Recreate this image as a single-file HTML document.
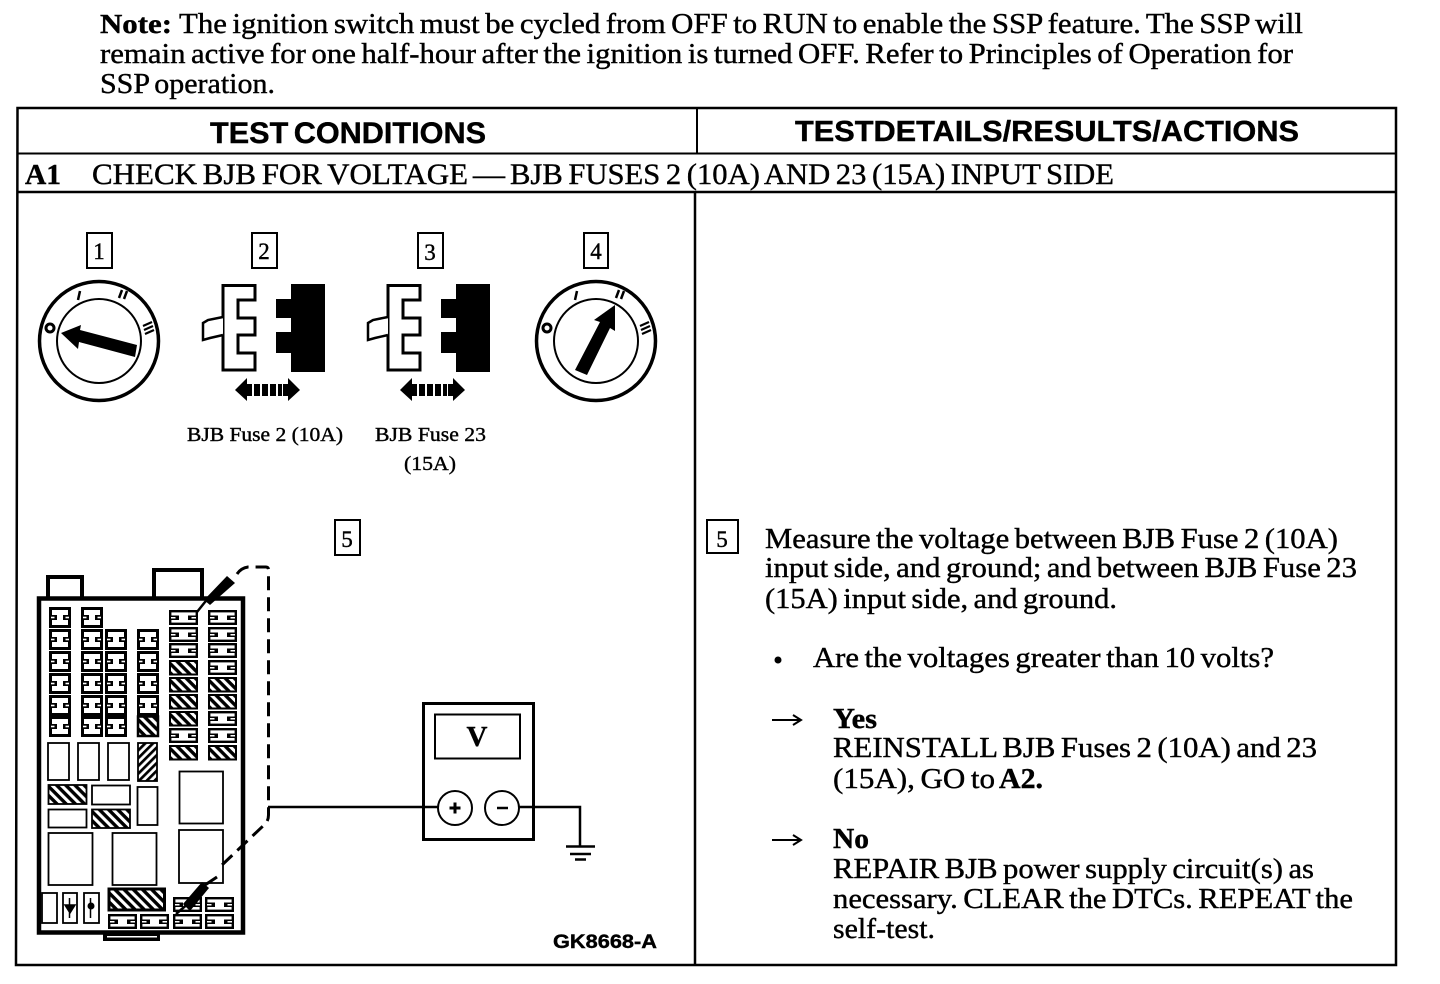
<!DOCTYPE html>
<html lang="en">
<head>
<meta charset="utf-8">
<title>A1 Check BJB for Voltage</title>
<style>
html,body{margin:0;padding:0;background:#fff;width:1440px;height:984px;overflow:hidden}
svg{display:block}
text{font-family:"Liberation Serif",serif;fill:#000;stroke:#000;stroke-width:.4px}
.s{font-family:"Liberation Sans",sans-serif;font-weight:700;word-spacing:-3px}
.b{font-weight:700}
.t{word-spacing:-2px}
</style>
</head>
<body>
<svg width="1440" height="984" viewBox="0 0 1440 984" xmlns="http://www.w3.org/2000/svg">
<defs>
<pattern id="h" width="6.500" height="6.500" patternUnits="userSpaceOnUse" patternTransform="rotate(45)">
<rect width="6.500" height="6.500" fill="#fff"/><rect width="6.500" height="3.400" fill="#000"/>
</pattern>
<pattern id="h2" width="5.500" height="5.500" patternUnits="userSpaceOnUse" patternTransform="rotate(-45)">
<rect width="5.500" height="5.500" fill="#fff"/><rect width="5.500" height="2.700" fill="#000"/>
</pattern>
<g id="f">
<rect x="1.500" y="1.500" width="19" height="18" fill="#fff" stroke="#000" stroke-width="3"/>
<rect x="2" y="8" width="6" height="5" fill="#000"/><rect x="14" y="8" width="6" height="5" fill="#000"/>
<rect x="2" y="9.700" width="3.500" height="1.600" fill="#fff"/><rect x="16.500" y="9.700" width="3.500" height="1.600" fill="#fff"/>
</g>
<g id="w">
<rect x="1.200" y="1.200" width="26.600" height="12.600" fill="#fff" stroke="#000" stroke-width="2.400"/>
<rect x="2" y="5.500" width="8" height="4.500" fill="#000"/><rect x="19" y="5.500" width="8" height="4.500" fill="#000"/>
<rect x="2" y="7" width="4.500" height="1.500" fill="#fff"/><rect x="22.500" y="7" width="4.500" height="1.500" fill="#fff"/>
</g>
<g id="x"><rect x="1" y="1" width="27" height="13.500" fill="url(#h)" stroke="#000" stroke-width="2"/></g>
<g id="c">
<path d="M223 285.500H255V300H238V318H255V335H238V353H255V370H223Z" fill="#fff" stroke="#000" stroke-width="3"/>
<path d="M223 317L208 320L203 323V340L210 338L223 335" fill="#fff" stroke="#000" stroke-width="2.500"/>
<path d="M291 284H325V372H291V353H276V332H291V318H276V299H291Z" fill="#000"/>
<path d="M247 378V384H252V396H247V401L235 390ZM288 378V384H283V396H288V401L300 390Z" fill="#000"/>
<path d="M254 384h6v12h-6zM262 384h6v12h-6zM270 384h6v12h-6zM278 384h4v12h-4z" fill="#000"/>
</g>
<g id="sw" fill="none" stroke="#000">
<circle cx="0" cy="0" r="59.500" stroke-width="3.500"/>
<circle cx="0" cy="0" r="42" stroke-width="2"/>
<g stroke-width="2.500">
<circle cx="-49" cy="-13" r="4" stroke-width="3"/>
<path d="M-21-41L-19-50"/>
<path d="M20-43L23-51M25-42L28-50"/>
<path d="M44-15L53-19M45-11L54-15M46-7L55-11" stroke-width="2.200"/>
</g>
</g>
</defs>

<rect width="1440" height="984" fill="#fff"/>

<!-- Note -->
<text class="b t" x="100" y="33" font-size="27" textLength="72" lengthAdjust="spacingAndGlyphs">Note:</text>
<text class="t" x="179" y="33" font-size="28" textLength="1124" lengthAdjust="spacingAndGlyphs">The ignition switch must be cycled from OFF to RUN to enable the SSP feature. The SSP will</text>
<text class="t" x="100" y="63" font-size="28" textLength="1193" lengthAdjust="spacingAndGlyphs">remain active for one half-hour after the ignition is turned OFF. Refer to Principles of Operation for</text>
<text class="t" x="100" y="93" font-size="28" textLength="175" lengthAdjust="spacingAndGlyphs">SSP operation.</text>

<!-- Table -->
<g fill="none" stroke="#000">
<path d="M17.500 108H1396V965H16Z" stroke-width="2.500"/>
<path d="M17 153.500H1396" stroke-width="2"/>
<path d="M17 192H1396" stroke-width="2.500"/>
<path d="M697 108V153" stroke-width="2"/>
<path d="M695 192V965" stroke-width="2.500"/>
</g>
<text class="s" x="210" y="143" font-size="30" textLength="276" lengthAdjust="spacingAndGlyphs">TEST CONDITIONS</text>
<text class="s" x="795" y="141" font-size="29" textLength="504" lengthAdjust="spacingAndGlyphs">TESTDETAILS/RESULTS/ACTIONS</text>
<text class="b" x="25" y="184" font-size="29" textLength="36" lengthAdjust="spacingAndGlyphs">A1</text>
<text class="t" x="92" y="184" font-size="30" textLength="376" lengthAdjust="spacingAndGlyphs">CHECK BJB FOR VOLTAGE</text>
<text x="473" y="184" font-size="30" textLength="32" lengthAdjust="spacingAndGlyphs">—</text>
<text class="t" x="510" y="184" font-size="30" textLength="604" lengthAdjust="spacingAndGlyphs">BJB FUSES 2 (10A) AND 23 (15A) INPUT SIDE</text>

<!-- Number boxes -->
<g fill="#fff" stroke="#000" stroke-width="2">
<rect x="87" y="233" width="25" height="35"/>
<rect x="252" y="233" width="25" height="35"/>
<rect x="418" y="233" width="25" height="35"/>
<rect x="584" y="233" width="24" height="35"/>
<rect x="335" y="520" width="25" height="35"/>
<rect x="707" y="520" width="31" height="33"/>
</g>
<g font-size="23" text-anchor="middle">
<text x="99" y="259">1</text>
<text x="264" y="259">2</text>
<text x="430" y="260">3</text>
<text x="596" y="259">4</text>
<text x="347" y="547">5</text>
<text x="722" y="547">5</text>
</g>

<!-- Switches -->
<use href="#sw" x="99" y="341"/>
<use href="#sw" x="596" y="341"/>
<path d="M137 345L135 357L79 342L78 349L61 333L81 325L80 330Z" fill="#000"/>
<path d="M575 370L587 375L610 328L615 331L615 305L594 320L600 322Z" fill="#000"/>

<!-- Connectors -->
<use href="#c"/>
<use href="#c" x="165"/>
<text x="187" y="441" font-size="20" textLength="156" lengthAdjust="spacingAndGlyphs">BJB Fuse 2 (10A)</text>
<text x="375" y="441" font-size="20" textLength="111" lengthAdjust="spacingAndGlyphs">BJB Fuse 23</text>
<text x="404" y="470" font-size="20" textLength="52" lengthAdjust="spacingAndGlyphs">(15A)</text>

<!-- Fuse box -->
<path d="M48 597V577H82V597M154 597V570H202V597" fill="#fff" stroke="#000" stroke-width="4"/>
<rect x="39" y="598.500" width="204" height="334" fill="#fff" stroke="#000" stroke-width="4.500"/>
<rect x="103" y="934" width="57" height="7" fill="#000"/>
<rect x="107" y="936" width="50" height="1.500" fill="#fff"/>

<use href="#f" x="49" y="607"/><use href="#f" x="49" y="629"/><use href="#f" x="49" y="651"/><use href="#f" x="49" y="673"/><use href="#f" x="49" y="695"/><use href="#f" x="49" y="716"/>
<use href="#f" x="81" y="607"/><use href="#f" x="81" y="629"/><use href="#f" x="81" y="651"/><use href="#f" x="81" y="673"/><use href="#f" x="81" y="695"/><use href="#f" x="81" y="716"/>
<use href="#f" x="105" y="629"/><use href="#f" x="105" y="651"/><use href="#f" x="105" y="673"/><use href="#f" x="105" y="695"/><use href="#f" x="105" y="716"/>
<use href="#f" x="137" y="629"/><use href="#f" x="137" y="651"/><use href="#f" x="137" y="673"/><use href="#f" x="137" y="695"/>
<rect x="138" y="716.500" width="20" height="19.500" fill="url(#h)" stroke="#000" stroke-width="2.500"/>

<use href="#w" x="169" y="610"/><use href="#w" x="169" y="627"/><use href="#w" x="169" y="643"/><use href="#x" x="169" y="660"/><use href="#x" x="169" y="677"/><use href="#x" x="169" y="694"/><use href="#x" x="169" y="711"/><use href="#w" x="169" y="728"/><use href="#x" x="169" y="745"/>
<use href="#w" x="208" y="610"/><use href="#w" x="208" y="627"/><use href="#w" x="208" y="643"/><use href="#w" x="208" y="660"/><use href="#x" x="208" y="677"/><use href="#x" x="208" y="694"/><use href="#w" x="208" y="711"/><use href="#w" x="208" y="728"/><use href="#x" x="208" y="745"/>

<g fill="#fff" stroke="#000" stroke-width="1.800">
<rect x="48" y="743" width="21" height="37"/>
<rect x="78" y="743" width="21" height="37"/>
<rect x="108" y="743" width="21" height="37"/>
<rect x="138" y="743" width="19" height="38" fill="url(#h2)"/>
<rect x="48.500" y="785" width="38" height="19" fill="url(#h)"/>
<rect x="92" y="785.500" width="38" height="19"/>
<rect x="137.500" y="787" width="20" height="38"/>
<rect x="48.500" y="809.500" width="38" height="18"/>
<rect x="92" y="809.500" width="38" height="18.500" fill="url(#h)"/>
<rect x="48.500" y="833" width="44" height="52"/>
<rect x="112.500" y="833" width="44" height="52"/>
<rect x="179.500" y="771.500" width="43.500" height="52"/>
<rect x="179" y="830" width="44" height="53"/>
<rect x="109" y="889" width="55.500" height="21" fill="url(#h)" stroke-width="3"/>
<rect x="42" y="893" width="15" height="30"/>
<rect x="63" y="893" width="14" height="30"/>
<rect x="84" y="893" width="15" height="30"/>
</g>
<path d="M69.500 898V918M65 905H75L70 913ZM90.500 898V918" stroke="#000" stroke-width="1.500" fill="#000"/>
<circle cx="91" cy="906" r="3.500" fill="#000"/>
<use href="#w" x="108" y="914"/><use href="#w" x="140" y="914"/><use href="#w" x="173" y="914"/><use href="#w" x="205" y="914"/>
<use href="#w" x="173" y="897"/><use href="#w" x="205" y="897"/>

<!-- Probes -->
<path d="M197 612L209 597" stroke="#000" stroke-width="2.500" fill="none"/>
<path d="M204 600L227 576L235 583L210 605Z" fill="#000"/>
<path d="M176 914L190 902" stroke="#000" stroke-width="2.500" fill="none"/>
<path d="M183 904L202 882L209 888L190 911Z" fill="#000"/>
<path d="M205 885L217 877" stroke="#000" stroke-width="3"/>

<!-- Dashed lead -->
<path d="M237 574Q241 568 248 567H266Q268.500 567 268.500 570V815Q268.500 822 263 826L222 865" fill="none" stroke="#000" stroke-width="3" stroke-dasharray="14 7"/>

<!-- Meter -->
<path d="M268 807H438" stroke="#000" stroke-width="2.500"/>
<rect x="423.500" y="703.500" width="110" height="136" fill="none" stroke="#000" stroke-width="3"/>
<rect x="435" y="714.500" width="85" height="44" fill="none" stroke="#000" stroke-width="2"/>
<text class="b" x="477" y="746" font-size="29" text-anchor="middle">V</text>
<circle cx="455" cy="808" r="17" fill="#fff" stroke="#000" stroke-width="2"/>
<circle cx="502" cy="808" r="17" fill="#fff" stroke="#000" stroke-width="2"/>
<path d="M449.500 808H460.500M455 802.500V813.500" stroke="#000" stroke-width="3"/>
<path d="M497 808H508" stroke="#000" stroke-width="2.500"/>
<path d="M519 807H580V846" fill="none" stroke="#000" stroke-width="2.500"/>
<path d="M566 846.500H595M570 854H591M575 859.500H586" stroke="#000" stroke-width="2.500"/>
<text class="s" x="553" y="948" font-size="19.500" textLength="104" lengthAdjust="spacingAndGlyphs">GK8668-A</text>

<!-- Right column -->
<g font-size="28">
<text class="t" x="765" y="548" textLength="573" lengthAdjust="spacingAndGlyphs">Measure the voltage between BJB Fuse 2 (10A)</text>
<text class="t" x="765" y="577" textLength="592" lengthAdjust="spacingAndGlyphs">input side, and ground; and between BJB Fuse 23</text>
<text class="t" x="765" y="608" textLength="352" lengthAdjust="spacingAndGlyphs">(15A) input side, and ground.</text>
<text class="t" x="813" y="667" textLength="461" lengthAdjust="spacingAndGlyphs">Are the voltages greater than 10 volts?</text>
<text class="b" x="833" y="728" textLength="44" lengthAdjust="spacingAndGlyphs">Yes</text>
<text class="t" x="833" y="757" textLength="484" lengthAdjust="spacingAndGlyphs">REINSTALL BJB Fuses 2 (10A) and 23</text>
<text class="t" x="833" y="788" textLength="162" lengthAdjust="spacingAndGlyphs">(15A), GO to</text>
<text class="b" x="999" y="788" textLength="44" lengthAdjust="spacingAndGlyphs">A2.</text>
<text class="b" x="833" y="848" textLength="36" lengthAdjust="spacingAndGlyphs">No</text>
<text class="t" x="833" y="878" textLength="481" lengthAdjust="spacingAndGlyphs">REPAIR BJB power supply circuit(s) as</text>
<text class="t" x="833" y="908" textLength="520" lengthAdjust="spacingAndGlyphs">necessary. CLEAR the DTCs. REPEAT the</text>
<text class="t" x="833" y="938" textLength="102" lengthAdjust="spacingAndGlyphs">self-test.</text>
</g>
<circle cx="778" cy="660" r="3.500" fill="#000"/>
<path d="M772 720H799M793 715L801 720L793 725" fill="none" stroke="#000" stroke-width="2"/>
<path d="M772 840H799M793 835L801 840L793 845" fill="none" stroke="#000" stroke-width="2"/>
</svg>
</body>
</html>
